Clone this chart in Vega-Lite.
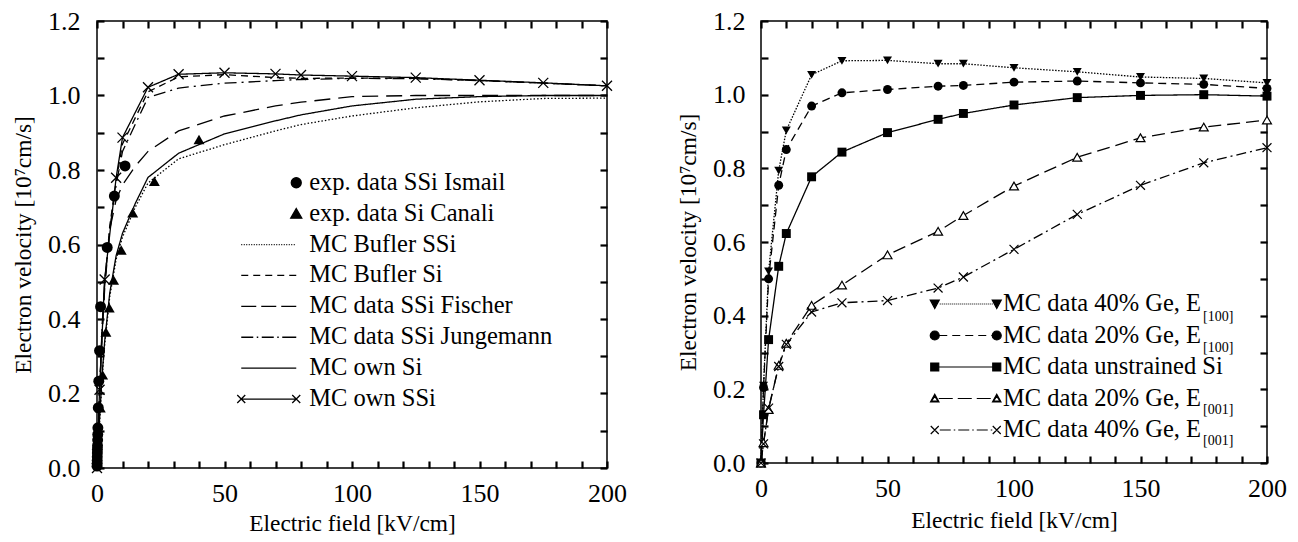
{
"$schema": "https://vega.github.io/schema/vega-lite/v6.json",
"padding": {"left": 10, "top": 7, "right": 0, "bottom": 0},
"spacing": 47,
"resolve": {"scale": {"strokeDash": "independent", "shape": "independent"}, "legend": {"shape": "independent", "strokeDash": "independent"}},
"datasets": {
"left": [
{"series":"exp. data SSi Ismail","E":0.02,"v":0.005},{"series":"exp. data SSi Ismail","E":0.05,"v":0.012},{"series":"exp. data SSi Ismail","E":0.08,"v":0.02},{"series":"exp. data SSi Ismail","E":0.1,"v":0.03},{"series":"exp. data SSi Ismail","E":0.13,"v":0.04},{"series":"exp. data SSi Ismail","E":0.16,"v":0.05},{"series":"exp. data SSi Ismail","E":0.2,"v":0.06},{"series":"exp. data SSi Ismail","E":0.25,"v":0.075},{"series":"exp. data SSi Ismail","E":0.3,"v":0.09},{"series":"exp. data SSi Ismail","E":0.35,"v":0.108},{"series":"exp. data SSi Ismail","E":0.5,"v":0.162},{"series":"exp. data SSi Ismail","E":0.7,"v":0.233},{"series":"exp. data SSi Ismail","E":1.0,"v":0.315},{"series":"exp. data SSi Ismail","E":1.4,"v":0.433},{"series":"exp. data SSi Ismail","E":4,"v":0.592},{"series":"exp. data SSi Ismail","E":6.8,"v":0.73},{"series":"exp. data SSi Ismail","E":11,"v":0.811},
{"series":"exp. data Si Canali","E":1.3,"v":0.162},{"series":"exp. data Si Canali","E":2.2,"v":0.25},{"series":"exp. data Si Canali","E":3.5,"v":0.365},{"series":"exp. data Si Canali","E":4.8,"v":0.43},{"series":"exp. data Si Canali","E":6.5,"v":0.505},{"series":"exp. data Si Canali","E":9.5,"v":0.585},{"series":"exp. data Si Canali","E":14,"v":0.685},{"series":"exp. data Si Canali","E":22.5,"v":0.77},{"series":"exp. data Si Canali","E":40,"v":0.882},
{"series":"MC Bufler SSi","E":0,"v":0},{"series":"MC Bufler SSi","E":1,"v":0.12},{"series":"MC Bufler SSi","E":2,"v":0.24},{"series":"MC Bufler SSi","E":3,"v":0.33},{"series":"MC Bufler SSi","E":5,"v":0.46},{"series":"MC Bufler SSi","E":7.5,"v":0.56},{"series":"MC Bufler SSi","E":10,"v":0.62},{"series":"MC Bufler SSi","E":15,"v":0.7},{"series":"MC Bufler SSi","E":20,"v":0.765},{"series":"MC Bufler SSi","E":32,"v":0.83},{"series":"MC Bufler SSi","E":50,"v":0.868},{"series":"MC Bufler SSi","E":70,"v":0.905},{"series":"MC Bufler SSi","E":80,"v":0.922},{"series":"MC Bufler SSi","E":100,"v":0.945},{"series":"MC Bufler SSi","E":125,"v":0.967},{"series":"MC Bufler SSi","E":150,"v":0.983},{"series":"MC Bufler SSi","E":175,"v":0.992},{"series":"MC Bufler SSi","E":200,"v":0.993},
{"series":"MC Bufler Si","E":0,"v":0},{"series":"MC Bufler Si","E":1,"v":0.2},{"series":"MC Bufler Si","E":2,"v":0.37},{"series":"MC Bufler Si","E":3,"v":0.49},{"series":"MC Bufler Si","E":5,"v":0.65},{"series":"MC Bufler Si","E":7.5,"v":0.77},{"series":"MC Bufler Si","E":10,"v":0.87},{"series":"MC Bufler Si","E":20,"v":1.01},{"series":"MC Bufler Si","E":32,"v":1.05},{"series":"MC Bufler Si","E":50,"v":1.056},{"series":"MC Bufler Si","E":70,"v":1.048},{"series":"MC Bufler Si","E":80,"v":1.046},{"series":"MC Bufler Si","E":100,"v":1.047},{"series":"MC Bufler Si","E":125,"v":1.046},{"series":"MC Bufler Si","E":150,"v":1.04},{"series":"MC Bufler Si","E":175,"v":1.033},{"series":"MC Bufler Si","E":200,"v":1.026},
{"series":"MC data SSi Fischer","E":0,"v":0},{"series":"MC data SSi Fischer","E":1,"v":0.2},{"series":"MC data SSi Fischer","E":2,"v":0.38},{"series":"MC data SSi Fischer","E":3,"v":0.5},{"series":"MC data SSi Fischer","E":5,"v":0.64},{"series":"MC data SSi Fischer","E":7.5,"v":0.72},{"series":"MC data SSi Fischer","E":10,"v":0.76},{"series":"MC data SSi Fischer","E":15,"v":0.81},{"series":"MC data SSi Fischer","E":20,"v":0.85},{"series":"MC data SSi Fischer","E":32,"v":0.905},{"series":"MC data SSi Fischer","E":50,"v":0.945},{"series":"MC data SSi Fischer","E":70,"v":0.972},{"series":"MC data SSi Fischer","E":80,"v":0.982},{"series":"MC data SSi Fischer","E":100,"v":0.997},{"series":"MC data SSi Fischer","E":125,"v":1.0},{"series":"MC data SSi Fischer","E":150,"v":1.0},{"series":"MC data SSi Fischer","E":175,"v":1.0},{"series":"MC data SSi Fischer","E":200,"v":1.0},
{"series":"MC data SSi Jungemann","E":0,"v":0},{"series":"MC data SSi Jungemann","E":1,"v":0.2},{"series":"MC data SSi Jungemann","E":2,"v":0.36},{"series":"MC data SSi Jungemann","E":3,"v":0.48},{"series":"MC data SSi Jungemann","E":5,"v":0.64},{"series":"MC data SSi Jungemann","E":7.5,"v":0.76},{"series":"MC data SSi Jungemann","E":10,"v":0.85},{"series":"MC data SSi Jungemann","E":20,"v":0.995},{"series":"MC data SSi Jungemann","E":32,"v":1.02},{"series":"MC data SSi Jungemann","E":50,"v":1.033},{"series":"MC data SSi Jungemann","E":70,"v":1.04},{"series":"MC data SSi Jungemann","E":80,"v":1.043},{"series":"MC data SSi Jungemann","E":100,"v":1.046},{"series":"MC data SSi Jungemann","E":125,"v":1.045},{"series":"MC data SSi Jungemann","E":150,"v":1.04},{"series":"MC data SSi Jungemann","E":175,"v":1.033},{"series":"MC data SSi Jungemann","E":200,"v":1.026},
{"series":"MC own Si","E":0,"v":0},{"series":"MC own Si","E":1,"v":0.13},{"series":"MC own Si","E":2,"v":0.25},{"series":"MC own Si","E":3,"v":0.34},{"series":"MC own Si","E":5,"v":0.47},{"series":"MC own Si","E":7.5,"v":0.57},{"series":"MC own Si","E":10,"v":0.63},{"series":"MC own Si","E":15,"v":0.71},{"series":"MC own Si","E":20,"v":0.78},{"series":"MC own Si","E":32,"v":0.845},{"series":"MC own Si","E":50,"v":0.897},{"series":"MC own Si","E":70,"v":0.932},{"series":"MC own Si","E":80,"v":0.948},{"series":"MC own Si","E":100,"v":0.972},{"series":"MC own Si","E":125,"v":0.99},{"series":"MC own Si","E":150,"v":0.997},{"series":"MC own Si","E":175,"v":1.0},{"series":"MC own Si","E":200,"v":1.0},
{"series":"MC own SSi","E":0,"v":0},{"series":"MC own SSi","E":1,"v":0.21},{"series":"MC own SSi","E":3,"v":0.506},{"series":"MC own SSi","E":7.5,"v":0.779},{"series":"MC own SSi","E":10,"v":0.887},{"series":"MC own SSi","E":20,"v":1.022},{"series":"MC own SSi","E":32,"v":1.057},{"series":"MC own SSi","E":50,"v":1.061},{"series":"MC own SSi","E":70,"v":1.058},{"series":"MC own SSi","E":80,"v":1.055},{"series":"MC own SSi","E":100,"v":1.052},{"series":"MC own SSi","E":125,"v":1.048},{"series":"MC own SSi","E":150,"v":1.041},{"series":"MC own SSi","E":175,"v":1.034},{"series":"MC own SSi","E":200,"v":1.026}
],
"right": [
{"series":"MC data 40% Ge, E[100]","E":0,"v":0},{"series":"MC data 40% Ge, E[100]","E":1,"v":0.21},{"series":"MC data 40% Ge, E[100]","E":3,"v":0.52},{"series":"MC data 40% Ge, E[100]","E":7,"v":0.794},{"series":"MC data 40% Ge, E[100]","E":10,"v":0.903},{"series":"MC data 40% Ge, E[100]","E":20,"v":1.054},{"series":"MC data 40% Ge, E[100]","E":32,"v":1.092},{"series":"MC data 40% Ge, E[100]","E":50,"v":1.093},{"series":"MC data 40% Ge, E[100]","E":70,"v":1.084},{"series":"MC data 40% Ge, E[100]","E":80,"v":1.084},{"series":"MC data 40% Ge, E[100]","E":100,"v":1.073},{"series":"MC data 40% Ge, E[100]","E":125,"v":1.062},{"series":"MC data 40% Ge, E[100]","E":150,"v":1.048},{"series":"MC data 40% Ge, E[100]","E":175,"v":1.044},{"series":"MC data 40% Ge, E[100]","E":200,"v":1.032},
{"series":"MC data 20% Ge, E[100]","E":0,"v":0},{"series":"MC data 20% Ge, E[100]","E":1,"v":0.205},{"series":"MC data 20% Ge, E[100]","E":3,"v":0.5},{"series":"MC data 20% Ge, E[100]","E":7,"v":0.754},{"series":"MC data 20% Ge, E[100]","E":10,"v":0.851},{"series":"MC data 20% Ge, E[100]","E":20,"v":0.969},{"series":"MC data 20% Ge, E[100]","E":32,"v":1.005},{"series":"MC data 20% Ge, E[100]","E":50,"v":1.014},{"series":"MC data 20% Ge, E[100]","E":70,"v":1.023},{"series":"MC data 20% Ge, E[100]","E":80,"v":1.025},{"series":"MC data 20% Ge, E[100]","E":100,"v":1.034},{"series":"MC data 20% Ge, E[100]","E":125,"v":1.037},{"series":"MC data 20% Ge, E[100]","E":150,"v":1.032},{"series":"MC data 20% Ge, E[100]","E":175,"v":1.028},{"series":"MC data 20% Ge, E[100]","E":200,"v":1.017},
{"series":"MC data unstrained Si","E":0,"v":0},{"series":"MC data unstrained Si","E":1,"v":0.131},{"series":"MC data unstrained Si","E":3,"v":0.335},{"series":"MC data unstrained Si","E":7,"v":0.534},{"series":"MC data unstrained Si","E":10,"v":0.623},{"series":"MC data unstrained Si","E":20,"v":0.777},{"series":"MC data unstrained Si","E":32,"v":0.844},{"series":"MC data unstrained Si","E":50,"v":0.897},{"series":"MC data unstrained Si","E":70,"v":0.933},{"series":"MC data unstrained Si","E":80,"v":0.949},{"series":"MC data unstrained Si","E":100,"v":0.972},{"series":"MC data unstrained Si","E":125,"v":0.992},{"series":"MC data unstrained Si","E":150,"v":0.998},{"series":"MC data unstrained Si","E":175,"v":1.0},{"series":"MC data unstrained Si","E":200,"v":0.996},
{"series":"MC data 20% Ge, E[001]","E":0,"v":0},{"series":"MC data 20% Ge, E[001]","E":1,"v":0.055},{"series":"MC data 20% Ge, E[001]","E":3,"v":0.145},{"series":"MC data 20% Ge, E[001]","E":7,"v":0.265},{"series":"MC data 20% Ge, E[001]","E":10,"v":0.325},{"series":"MC data 20% Ge, E[001]","E":20,"v":0.428},{"series":"MC data 20% Ge, E[001]","E":32,"v":0.483},{"series":"MC data 20% Ge, E[001]","E":50,"v":0.565},{"series":"MC data 20% Ge, E[001]","E":70,"v":0.629},{"series":"MC data 20% Ge, E[001]","E":80,"v":0.672},{"series":"MC data 20% Ge, E[001]","E":100,"v":0.752},{"series":"MC data 20% Ge, E[001]","E":125,"v":0.83},{"series":"MC data 20% Ge, E[001]","E":150,"v":0.883},{"series":"MC data 20% Ge, E[001]","E":175,"v":0.912},{"series":"MC data 20% Ge, E[001]","E":200,"v":0.931},
{"series":"MC data 40% Ge, E[001]","E":0,"v":0},{"series":"MC data 40% Ge, E[001]","E":1,"v":0.052},{"series":"MC data 40% Ge, E[001]","E":3,"v":0.149},{"series":"MC data 40% Ge, E[001]","E":7,"v":0.262},{"series":"MC data 40% Ge, E[001]","E":10,"v":0.322},{"series":"MC data 40% Ge, E[001]","E":20,"v":0.41},{"series":"MC data 40% Ge, E[001]","E":32,"v":0.435},{"series":"MC data 40% Ge, E[001]","E":50,"v":0.441},{"series":"MC data 40% Ge, E[001]","E":70,"v":0.475},{"series":"MC data 40% Ge, E[001]","E":80,"v":0.505},{"series":"MC data 40% Ge, E[001]","E":100,"v":0.58},{"series":"MC data 40% Ge, E[001]","E":125,"v":0.675},{"series":"MC data 40% Ge, E[001]","E":150,"v":0.754},{"series":"MC data 40% Ge, E[001]","E":175,"v":0.815},{"series":"MC data 40% Ge, E[001]","E":200,"v":0.856}
]
},
"hconcat": [
{
"width": 510, "height": 447,
"data": {"name": "left"},
"layer": [
{
"transform": [{"filter": {"field": "series", "oneOf": ["MC Bufler SSi","MC Bufler Si","MC data SSi Fischer","MC data SSi Jungemann","MC own Si","MC own SSi"]}}],
"mark": {"type": "line", "color": "black", "strokeWidth": 1.3},
"encoding": {
"x": {"field": "E", "type": "quantitative", "scale": {"domain": [0, 200], "nice": false, "zero": false},
 "axis": {"orient": "bottom", "values": [0,10,20,30,40,50,60,70,80,90,100,110,120,130,140,150,160,170,180,190,200], "labelExpr": "datum.value % 50 === 0 ? datum.label : ''", "tickSize": -7, "tickColor": "#000000", "tickWidth": 2.2, "labelPadding": 19, "title": "Electric field [kV/cm]", "titlePadding": 6}},
"y": {"field": "v", "type": "quantitative", "scale": {"domain": [0, 1.2], "nice": false},
 "axis": {"orient": "left", "values": [0,0.1,0.2,0.3,0.4,0.5,0.6,0.7,0.8,0.9,1.0,1.1,1.2], "labelExpr": "round(datum.value*10) % 2 === 0 ? format(datum.value, '.1f') : ''", "tickSize": -7, "tickColor": "#000000", "tickWidth": 2.2, "labelPadding": 24, "title": "Electron velocity [10⁷cm/s]", "titlePadding": 12.5}},
"strokeDash": {"field": "series", "type": "nominal", "scale": {"domain": ["MC Bufler SSi","MC Bufler Si","MC data SSi Fischer","MC data SSi Jungemann","MC own Si","MC own SSi"], "range": [[1.5,2],[7,5],[16,8],[12,5,2,5],[1,0],[1,0]]}, "legend": null}
}
},
{
"transform": [{"filter": {"field": "series", "oneOf": ["exp. data SSi Ismail","exp. data Si Canali"]}}],
"mark": {"type": "point", "filled": true, "color": "black", "size": 120, "opacity": 1},
"encoding": {
"x": {"field": "E", "type": "quantitative", "axis": {"orient": "top", "values": [0,10,20,30,40,50,60,70,80,90,100,110,120,130,140,150,160,170,180,190,200], "labels": false, "title": null, "tickSize": -7, "tickColor": "#000000", "tickWidth": 2.2}},
"y": {"field": "v", "type": "quantitative", "axis": {"orient": "right", "values": [0,0.1,0.2,0.3,0.4,0.5,0.6,0.7,0.8,0.9,1.0,1.1,1.2], "labels": false, "title": null, "tickSize": -7, "tickColor": "#000000", "tickWidth": 2.2}},
"shape": {"field": "series", "type": "nominal", "scale": {"domain": ["exp. data SSi Ismail","exp. data Si Canali"], "range": ["circle","triangle-up"]}, "legend": null}
}
},
{
"transform": [{"filter": {"field": "series", "equal": "MC own SSi"}}],
"mark": {"type": "point", "shape": "M-1,-1L1,1M-1,1L1,-1", "filled": false, "color": "black", "strokeWidth": 1.3, "size": 100, "opacity": 1},
"encoding": {
"x": {"field": "E", "type": "quantitative", "axis": null},
"y": {"field": "v", "type": "quantitative", "axis": null}
}
},
{
"mark": {"type": "point", "opacity": 0, "filled": true, "color": "black", "stroke": "black", "strokeWidth": 1.3},
"encoding": {
"x": {"field": "E", "type": "quantitative", "axis": null},
"y": {"field": "v", "type": "quantitative", "axis": null},
"shape": {"field": "series", "type": "nominal",
 "scale": {"domain": ["exp. data SSi Ismail","exp. data Si Canali","MC Bufler SSi","MC Bufler Si","MC data SSi Fischer","MC data SSi Jungemann","MC own Si","MC own SSi"],
  "range": [
  "M-5.4,0M1.1,0A0.5,0.5,0,1,1,0.1,0A0.5,0.5,0,1,1,1.1,0Z",
  "M-5.4,0M0.6,-0.5L1.15,0.45L0.05,0.45Z",
  "M-5.4,0M-4.9,0h0.1M-4.65,0h0.1M-4.4,0h0.1M-4.15,0h0.1M-3.9,0h0.1M-3.65,0h0.1M-3.4,0h0.1M-3.15,0h0.1M-2.9,0h0.1M-2.65,0h0.1M-2.4,0h0.1M-2.15,0h0.1M-1.9,0h0.1M-1.65,0h0.1M-1.4,0h0.1M-1.15,0h0.1M-0.9,0h0.1M-0.65,0h0.1M-0.4,0h0.1M-0.15,0h0.1M0.1,0h0.1M0.35,0h0.1",
  "M-5.4,0M-4.9,0h0.7M-3.7,0h0.7M-2.5,0h0.7M-1.3,0h0.7M-0.1,0h0.7",
  "M-5.4,0M-4.9,0h1.5M-2.9,0h1.5M-0.9,0h1.5",
  "M-5.4,0M-4.9,0h1.2M-3.35,0h0.15M-2.85,0h1.2M-1.3,0h0.15M-0.8,0h1.4",
  "M-5.4,0M-4.9,0H0.6",
  "M-5.4,0M-4.9,0H0.6M-5.3,-0.4L-4.5,0.4M-5.3,0.4L-4.5,-0.4M0.2,-0.4L1,0.4M0.2,0.4L1,-0.4"
  ]},
 "legend": {"orient": "none", "legendX": 181, "legendY": 149.5, "title": null, "padding": 0, "rowPadding": 5.9, "symbolSize": 400, "symbolOffset": 0, "symbolStrokeWidth": 1.3, "labelOffset": 6.75, "labelFont": "Times New Roman, Liberation Serif, serif", "labelFontSize": 24.5, "labelColor": "black", "labelLimit": 600}
}
}
}
],
"resolve": {"scale": {"shape": "independent"}, "axis": {"x": "independent", "y": "independent"}, "legend": {"shape": "independent"}}
},
{
"width": 506, "height": 442,
"data": {"name": "right"},
"layer": [
{
"mark": {"type": "line", "color": "black", "strokeWidth": 1.3},
"encoding": {
"x": {"field": "E", "type": "quantitative", "scale": {"domain": [0, 200], "nice": false, "zero": false},
 "axis": {"orient": "bottom", "values": [0,10,20,30,40,50,60,70,80,90,100,110,120,130,140,150,160,170,180,190,200], "labelExpr": "datum.value % 50 === 0 ? datum.label : ''", "tickSize": -7, "tickColor": "#000000", "tickWidth": 2.2, "labelPadding": 19, "title": "Electric field [kV/cm]", "titlePadding": 8}},
"y": {"field": "v", "type": "quantitative", "scale": {"domain": [0, 1.2], "nice": false},
 "axis": {"orient": "left", "values": [0,0.1,0.2,0.3,0.4,0.5,0.6,0.7,0.8,0.9,1.0,1.1,1.2], "labelExpr": "round(datum.value*10) % 2 === 0 ? format(datum.value, '.1f') : ''", "tickSize": -7, "tickColor": "#000000", "tickWidth": 2.2, "labelPadding": 23, "title": "Electron velocity [10⁷cm/s]", "titlePadding": 12.5}},
"strokeDash": {"field": "series", "type": "nominal", "scale": {"domain": ["MC data 40% Ge, E[100]","MC data 20% Ge, E[100]","MC data unstrained Si","MC data 20% Ge, E[001]","MC data 40% Ge, E[001]"], "range": [[1.5,1.5],[8,5],[1,0],[13,6],[10,4,2,4]]}, "legend": null}
}
},
{
"transform": [{"filter": {"field": "series", "oneOf": ["MC data 40% Ge, E[100]","MC data 20% Ge, E[100]","MC data unstrained Si"]}}],
"mark": {"type": "point", "filled": true, "color": "black", "size": 80, "opacity": 1},
"encoding": {
"x": {"field": "E", "type": "quantitative", "axis": {"orient": "top", "values": [0,10,20,30,40,50,60,70,80,90,100,110,120,130,140,150,160,170,180,190,200], "labels": false, "title": null, "tickSize": -7, "tickColor": "#000000", "tickWidth": 2.2}},
"y": {"field": "v", "type": "quantitative", "axis": {"orient": "right", "values": [0,0.1,0.2,0.3,0.4,0.5,0.6,0.7,0.8,0.9,1.0,1.1,1.2], "labels": false, "title": null, "tickSize": -7, "tickColor": "#000000", "tickWidth": 2.2}},
"shape": {"field": "series", "type": "nominal", "scale": {"domain": ["MC data 40% Ge, E[100]","MC data 20% Ge, E[100]","MC data unstrained Si"], "range": ["triangle-down","circle","square"]}, "legend": null}
}
},
{
"transform": [{"filter": {"field": "series", "oneOf": ["MC data 20% Ge, E[001]","MC data 40% Ge, E[001]"]}}],
"mark": {"type": "point", "filled": true, "fill": "white", "stroke": "black", "strokeWidth": 1.2, "size": 80, "opacity": 1},
"encoding": {
"x": {"field": "E", "type": "quantitative", "axis": null},
"y": {"field": "v", "type": "quantitative", "axis": null},
"shape": {"field": "series", "type": "nominal", "scale": {"domain": ["MC data 20% Ge, E[001]","MC data 40% Ge, E[001]"], "range": ["triangle-up","M-1,-1L1,1M-1,1L1,-1"]}, "legend": null}
}
},
{
"mark": {"type": "point", "opacity": 0, "filled": true, "color": "black", "stroke": "black", "strokeWidth": 1.2},
"encoding": {
"x": {"field": "E", "type": "quantitative", "axis": null},
"y": {"field": "v", "type": "quantitative", "axis": null},
"shape": {"field": "series", "type": "nominal",
 "scale": {"domain": ["MC data 40% Ge, E[100]","MC data 20% Ge, E[100]","MC data unstrained Si","MC data 20% Ge, E[001]","MC data 40% Ge, E[001]"],
  "range": [
  "M-6.1,0M-6.05,-0.4h0.9L-5.6,0.45ZM0.15,-0.4h0.9L0.6,0.45ZM-5.1,0h0.1M-4.9,0h0.1M-4.7,0h0.1M-4.5,0h0.1M-4.3,0h0.1M-4.1,0h0.1M-3.9,0h0.1M-3.7,0h0.1M-3.5,0h0.1M-3.3,0h0.1M-3.1,0h0.1M-2.9,0h0.1M-2.7,0h0.1M-2.5,0h0.1M-2.3,0h0.1M-2.1,0h0.1M-1.9,0h0.1M-1.7,0h0.1M-1.5,0h0.1M-1.3,0h0.1M-1.1,0h0.1M-0.9,0h0.1M-0.7,0h0.1M-0.5,0h0.1M-0.3,0h0.1M-0.1,0h0.1M0.1,0h0.1",
  "M-6.1,0M-5.15,0A0.45,0.45,0,1,1,-6.05,0A0.45,0.45,0,1,1,-5.15,0ZM1.05,0A0.45,0.45,0,1,1,0.15,0A0.45,0.45,0,1,1,1.05,0ZM-5.15,0h0.8M-3.85,0h0.8M-2.55,0h0.8M-1.25,0h0.8M0.05,0h0.8",
  "M-6.1,0M-5.6,0H0.6M-6,-0.4h0.8v0.8h-0.8ZM0.2,-0.4h0.8v0.8h-0.8Z",
  "M-6.1,0M-5.6,-0.42L-5.18,0.33L-6.02,0.33ZM-5.6,-0.22L-5.936,0.26L-5.264,0.26ZM0.6,-0.42L1.02,0.33L0.18,0.33ZM0.6,-0.22L0.264,0.26L0.936,0.26ZM-5.2,0h1.4M-3.3,0h1.4M-1.4,0h1.4",
  "M-6.1,0M-6,-0.4L-5.2,0.4M-6,0.4L-5.2,-0.4M0.2,-0.4L1,0.4M0.2,0.4L1,-0.4M-5.1,0h1.1M-3.7,0h0.15M-3.25,0h1.1M-1.85,0h0.15M-1.4,0h1.1M0,0h0.15"
  ]},
 "legend": {"orient": "none", "legendX": 217.5, "legendY": 270.75, "title": null, "padding": 0, "rowPadding": 6.5, "symbolSize": 400, "symbolOffset": 0, "symbolStrokeWidth": 1.2, "labelOffset": 0, "labelFont": "Times New Roman, Liberation Serif, serif", "labelFontSize": 24.5, "labelColor": "black", "labelLimit": 600,
  "labelExpr": "split(datum.label, '[')[0]"}
}
}
},
{
"mark": {"type": "point", "opacity": 0, "color": "black"},
"encoding": {
"x": {"field": "E", "type": "quantitative", "axis": null},
"y": {"field": "v", "type": "quantitative", "axis": null},
"shape": {"field": "series", "type": "nominal",
 "scale": {"domain": ["MC data 40% Ge, E[100]","MC data 20% Ge, E[100]","MC data unstrained Si","MC data 20% Ge, E[001]","MC data 40% Ge, E[001]"], "range": ["square","square","square","square","square"]},
 "legend": {"orient": "none", "legendX": 428, "legendY": 288.5, "title": null, "padding": 0, "rowPadding": 17, "symbolSize": 196, "symbolOpacity": 0, "symbolStrokeWidth": 0, "symbolStrokeColor": "transparent", "symbolOffset": 0, "labelOffset": 0, "labelFont": "Times New Roman, Liberation Serif, serif", "labelFontSize": 14, "labelColor": "black", "labelLimit": 200,
  "labelExpr": "indexof(datum.label, '[') >= 0 ? '[' + split(datum.label, '[')[1] : ''"}
}
}
}
],
"resolve": {"scale": {"shape": "independent"}, "axis": {"x": "independent", "y": "independent"}, "legend": {"shape": "independent"}}
}
],
"config": {
"font": "Times New Roman, Liberation Serif, serif",
"view": {"stroke": "black", "strokeWidth": 1.5},
"axis": {"domain": false, "grid": false, "ticks": true, "labelFont": "Times New Roman, Liberation Serif, serif", "labelFontSize": 26, "labelColor": "black", "titleFont": "Times New Roman, Liberation Serif, serif", "titleFontSize": 23.4, "titleFontWeight": "normal", "titleColor": "black", "labelOverlap": false, "labelBound": false, "labelFlush": false},
"legend": {"symbolOpacity": 1}
}
}
